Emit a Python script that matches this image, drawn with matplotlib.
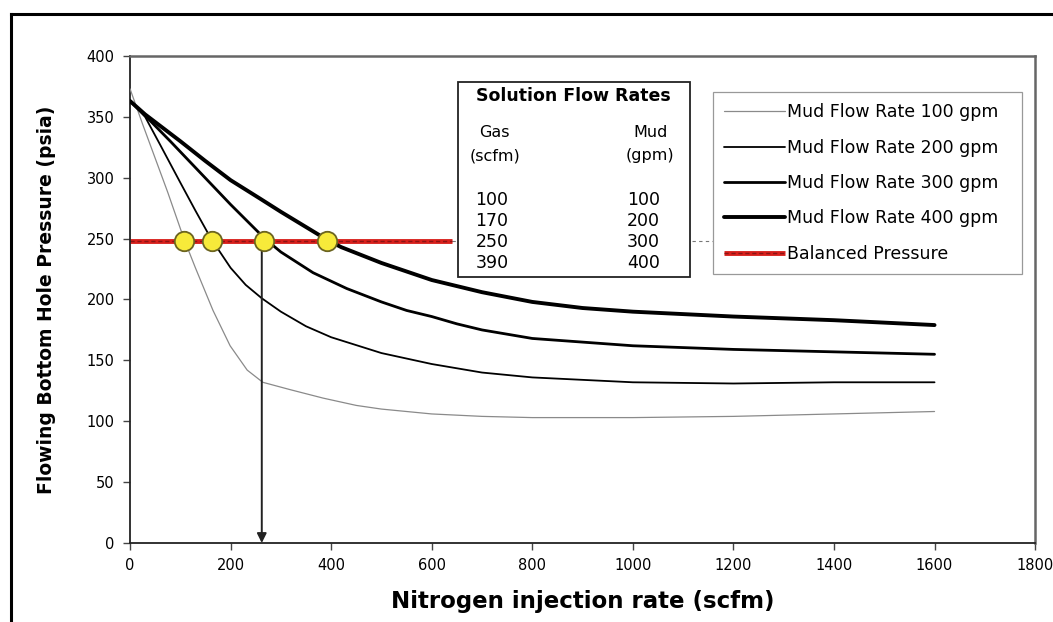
import numpy as np
import matplotlib
matplotlib.use('Agg')
import matplotlib.pyplot as plt
from matplotlib.lines import Line2D
from matplotlib.patches import Rectangle

# curves: nitrogen rate (scfm) vs bottom hole pressure (psia)
gas_100 = [0, 25, 50, 75, 107, 130, 165, 199, 233, 264, 318, 384, 450, 500, 600, 700,
           800, 1000, 1200, 1400, 1600]
bhp_100 = [373, 344, 316, 288, 250, 226, 191, 162, 142, 132, 126, 119, 113, 110, 106, 104,
           103, 103, 104, 106, 108]

gas_200 = [0, 30, 60, 100, 130, 161, 200, 230, 262, 300, 350, 400, 500, 600, 700, 800,
           1000, 1200, 1400, 1600]
bhp_200 = [363, 350, 327, 296, 273, 250, 226, 212, 201, 190, 178, 169, 156, 147, 140, 136,
           132, 131, 132, 132]

gas_300 = [0, 30, 80, 140, 200, 268, 300, 364, 431, 500, 550, 600, 650, 700, 800, 1000,
           1200, 1400, 1600]
bhp_300 = [363, 351, 330, 304, 278, 250, 239, 222, 209, 198, 191, 186, 180, 175, 168, 162,
           159, 157, 155]

gas_400 = [0, 30, 100, 149, 200, 258, 300, 352, 392, 420, 500, 600, 700, 800, 900, 1000,
           1200, 1400, 1600]
bhp_400 = [363, 352, 330, 314, 298, 283, 272, 259, 249, 243, 230, 216, 206, 198, 193, 190,
           186, 183, 179]

balanced_bhp = 248
balanced_red_end = 640
balanced_end = 1600
solution_points = [107, 162, 267, 392]
arrow_gas = 262

table_gas = ['100', '170', '250', '390']
table_mud = ['100', '200', '300', '400']

labels = ['Mud Flow Rate 100 gpm', 'Mud Flow Rate 200 gpm',
          'Mud Flow Rate 300 gpm', 'Mud Flow Rate 400 gpm', 'Balanced Pressure']

plt.rcParams['font.family'] = ['DejaVu Sans']

fig = plt.figure(figsize=(10.53, 6.22), dpi=100)
ax = fig.add_axes([0.1235, 0.127, 0.8595, 0.783])

kw = dict(zorder=3, solid_joinstyle='round', solid_capstyle='round')
l1, = ax.plot(gas_100, bhp_100, color='#8a8a8a', lw=0.9, **kw)
l2, = ax.plot(gas_200, bhp_200, color='black', lw=1.3, **kw)
l3, = ax.plot(gas_300, bhp_300, color='black', lw=2.0, **kw)
l4, = ax.plot(gas_400, bhp_400, color='black', lw=2.8, **kw)

# balanced pressure line (red with dark dashes), continues dashed behind the boxes
ax.plot([balanced_red_end, balanced_end], [balanced_bhp, balanced_bhp],
        color='#777777', lw=0.8, ls=(0, (3, 3)), zorder=2)
red, = ax.plot([0, balanced_red_end], [balanced_bhp, balanced_bhp],
               color='#d8201c', lw=3.5, zorder=2, solid_capstyle='butt')
dash, = ax.plot([0, balanced_red_end], [balanced_bhp, balanced_bhp],
                color='#8a1414', lw=1.0, ls=(0, (3, 2)), zorder=2)

ax.annotate('', xy=(arrow_gas, 0), xytext=(arrow_gas, balanced_bhp),
            arrowprops=dict(arrowstyle='-|>', color='#222222', lw=1.4,
                            mutation_scale=14, shrinkA=0, shrinkB=0), zorder=4)

ax.plot(solution_points, [balanced_bhp] * len(solution_points), 'o',
        ms=14, mfc='#f7ea3a', mec='#6b6420', mew=1.3, zorder=5)

ax.set_xlim(0, 1800)
ax.set_ylim(0, 400)
ax.set_xticks(np.arange(0, 1801, 200))
ax.set_yticks(np.arange(0, 401, 50))
ax.tick_params(labelsize=10.5, length=5, width=1, color='#444444', pad=6)
for s in ['left', 'bottom']:
    ax.spines[s].set_color('#222222')
    ax.spines[s].set_linewidth(1.3)
for s in ['top', 'right']:
    ax.spines[s].set_color('#666666')
    ax.spines[s].set_linewidth(1.8)

ax.set_xlabel('Nitrogen injection rate (scfm)', fontsize=16.5, fontweight='bold', labelpad=12)
ax.set_ylabel('Flowing Bottom Hole Pressure (psia)', fontsize=13.5, fontweight='bold', labelpad=22)

# solution flow rates box
ax.add_patch(Rectangle((0.3624, 0.5462), 0.2564, 0.4004, transform=ax.transAxes,
                       facecolor='white', edgecolor='#222222', lw=1.3, zorder=6))
ax.text(0.4895, 0.918, 'Solution Flow Rates', transform=ax.transAxes, ha='center',
        va='center', fontsize=12.5, fontweight='bold', zorder=7)
for xc, head in [(0.403, ['Gas', '(scfm)']), (0.5746, ['Mud', '(gpm)'])]:
    ax.text(xc, 0.842, head[0], transform=ax.transAxes, ha='center', va='center',
            fontsize=11.5, zorder=7)
    ax.text(xc, 0.795, head[1], transform=ax.transAxes, ha='center', va='center',
            fontsize=11.5, zorder=7)
row_y = [0.704, 0.662, 0.619, 0.574]
for g, m, yy in zip(table_gas, table_mud, row_y):
    ax.text(0.400, yy, g, transform=ax.transAxes, ha='center', va='center', fontsize=12.5, zorder=7)
    ax.text(0.567, yy, m, transform=ax.transAxes, ha='center', va='center', fontsize=12.5, zorder=7)

leg = ax.legend([l1, l2, l3, l4, (red, dash)], labels,
                loc='upper left', bbox_to_anchor=(0.644, 0.548, 0.342, 0.378),
                mode='expand', borderaxespad=0, fontsize=12.5, handlelength=3.5,
                handletextpad=0.1, labelspacing=1.0, borderpad=0.65, fancybox=False,
                framealpha=1, edgecolor='#999999')
leg.get_frame().set_linewidth(0.9)
leg.set_zorder(8)

# outer frame of the figure
fig.add_artist(Line2D([11 / 1053, 11 / 1053], [0, 1 - 14 / 622], transform=fig.transFigure,
                      color='black', lw=2.2))
fig.add_artist(Line2D([11 / 1053, 1], [1 - 14 / 622, 1 - 14 / 622], transform=fig.transFigure,
                      color='black', lw=2.2))

fig.savefig('out.png', dpi=100)
